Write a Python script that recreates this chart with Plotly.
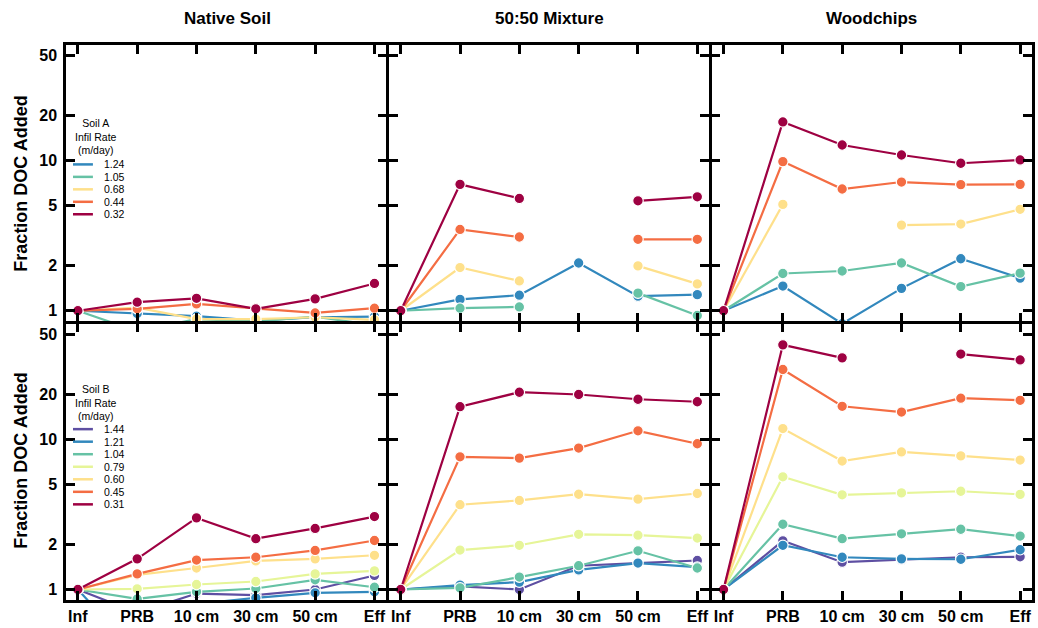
import plotly.graph_objects as go
from plotly.subplots import make_subplots

# Sampling positions along the flow path
positions = ["Inf", "PRB", "10 cm", "30 cm", "50 cm", "Eff"]
column_titles = ["Native Soil", "50:50 Mixture", "Woodchips"]

# Soil A infiltration rates (m/day) and their colours
soil_a_rates = ["1.24", "1.05", "0.68", "0.44", "0.32"]
soil_a_colors = ["#3288bd", "#66c2a5", "#fee08b", "#f46d43", "#9e0142"]

# Soil B infiltration rates (m/day) and their colours
soil_b_rates = ["1.44", "1.21", "1.04", "0.79", "0.60", "0.45", "0.31"]
soil_b_colors = ["#5e4fa2", "#3288bd", "#66c2a5", "#e6f598", "#fee08b", "#f46d43", "#9e0142"]

# Fraction DOC added, Soil A (one row per infiltration rate, same order as soil_a_rates)
native_a = [
    [1, 0.96, 0.92, 0.86, 0.905, 0.915],
    [1, 0.73, 0.88, 0.85, 0.915, 0.80],
    [1, 1.05, 0.88, 0.88, 0.905, 0.87],
    [1, 1.03, 1.11, 1.04, 0.967, 1.04],
    [1, 1.14, 1.21, 1.03, 1.20, 1.52],
]
mixture_a = [
    [1, 1.19, 1.27, 2.08, 1.25, 1.28],
    [1, 1.04, 1.06, None, 1.31, 0.93],
    [1, 1.94, 1.58, None, 1.99, 1.51],
    [1, 3.48, 3.10, None, 2.99, 2.99],
    [1, 6.95, 5.60, None, 5.40, 5.74],
]
woodchips_a = [
    [1, 1.46, 0.82, 1.41, 2.22, 1.65],
    [1, 1.77, 1.84, 2.08, 1.45, 1.78],
    [1, 5.11, None, 3.72, 3.78, 4.74],
    [1, 9.85, 6.47, 7.20, 6.92, 6.95],
    [1, 18.1, 12.7, 10.9, 9.60, 10.1],
]

# Fraction DOC added, Soil B (same order as soil_b_rates)
native_b = [
    [1, 0.70, 0.94, 0.918, 1.00, 1.24],
    [1, 0.37, 0.80, 0.88, 0.95, 0.965],
    [1, 0.865, 0.965, 1.015, 1.16, 1.035],
    [1, 1.01, 1.08, 1.13, 1.27, 1.33],
    [1, 1.25, 1.39, 1.55, 1.60, 1.69],
    [1, 1.27, 1.57, 1.64, 1.82, 2.12],
    [1, 1.60, 3.00, 2.18, 2.55, 3.06],
]
mixture_b = [
    [1, 1.05, 1.00, 1.44, 1.50, 1.56],
    [1, 1.07, 1.12, 1.35, 1.50, 1.41],
    [1, 1.025, 1.21, 1.44, 1.81, 1.39],
    [1, 1.83, 1.97, 2.33, 2.30, 2.20],
    [1, 3.67, 3.92, 4.31, 4.00, 4.36],
    [1, 7.65, 7.50, 8.75, 11.4, 9.35],
    [1, 16.5, 20.6, 19.9, 18.5, 17.8],
]
woodchips_b = [
    [1, 2.11, 1.52, 1.58, 1.64, 1.65],
    [1, 1.97, 1.64, 1.60, 1.59, 1.84],
    [1, 2.72, 2.18, 2.35, 2.52, 2.27],
    [1, 5.63, 4.27, 4.40, 4.51, 4.30],
    [1, 11.8, 7.17, 8.24, 7.76, 7.28],
    [1, 29.2, 16.6, 15.2, 18.8, 18.2],
    [1, 42.6, 34.9, None, 37.0, 33.8],
]

y_ticks = [1, 2, 5, 10, 20, 50]

W, H = 1038, 628
M_L, M_R, M_T, M_B = 66, 3, 45, 22
PW = W - M_L - M_R
PH = H - M_T - M_B
LINE_W = 2.5
FONT = "Liberation Sans, Arial, Helvetica, sans-serif"


def px_x(x):
    return (x - M_L) / PW


def px_y(y):
    return (H - M_B - y) / PH


# Gaps equal to the frame width so neighbouring frame lines land on top of each other
fig = make_subplots(
    rows=2, cols=3,
    horizontal_spacing=LINE_W / PW, vertical_spacing=LINE_W / PH,
)

panels_a = [(1, native_a), (2, mixture_a), (3, woodchips_a)]
panels_b = [(1, native_b), (2, mixture_b), (3, woodchips_b)]

for row, group, colors in ((1, panels_a, soil_a_colors), (2, panels_b, soil_b_colors)):
    for col, series in group:
        for vals, color in zip(series, colors):
            fig.add_trace(
                go.Scatter(
                    x=positions, y=vals, mode="lines+markers",
                    line=dict(color=color, width=2.2),
                    marker=dict(size=10.5, color=color, line=dict(color="white", width=1.2)),
                    connectgaps=False, showlegend=False, hoverinfo="skip",
                ),
                row=row, col=col,
            )

axis_common = dict(
    showline=True, linecolor="black", linewidth=LINE_W, mirror="ticks",
    ticks="inside", ticklen=9, tickwidth=2.5, tickcolor="black",
    showgrid=False, zeroline=False,
    tickfont=dict(family=FONT, size=16, color="black", weight="bold"),
)

for row in (1, 2):
    for col in (1, 2, 3):
        fig.update_xaxes(
            type="category", categoryorder="array", categoryarray=positions,
            range=[-0.2, 5.2], showticklabels=(row == 2),
            row=row, col=col, **axis_common,
        )
        fig.update_yaxes(
            type="log", range=[-0.07, 1.77], tickvals=y_ticks,
            ticktext=[str(v) for v in y_ticks], showticklabels=(col == 1),
            ticklabelstandoff=3,
            row=row, col=col, **axis_common,
        )

annotations = []
col_centers = [1 / 6, 1 / 2, 5 / 6]
for title, cx in zip(column_titles, col_centers):
    annotations.append(dict(
        text=title, xref="paper", yref="paper", x=cx, y=px_y(18),
        showarrow=False, xanchor="center", yanchor="middle",
        font=dict(family=FONT, size=17, color="black", weight="bold"),
    ))

for cy in (185, 465):
    annotations.append(dict(
        text="Fraction DOC Added", xref="paper", yref="paper",
        x=px_x(20), y=px_y(cy), textangle=-90,
        showarrow=False, xanchor="center", yanchor="middle",
        font=dict(family=FONT, size=18, color="black", weight="bold"),
    ))

shapes = []


def add_key(title, rates, colors, title_y, first_y, step):
    annotations.append(dict(
        text=title, xref="paper", yref="paper", x=px_x(96), y=px_y(title_y),
        showarrow=False, xanchor="center", yanchor="middle", align="center",
        font=dict(family=FONT, size=10.5, color="black"),
    ))
    for i, (rate, color) in enumerate(zip(rates, colors)):
        y = first_y + i * step
        shapes.append(dict(
            type="line", xref="paper", yref="paper",
            x0=px_x(73), x1=px_x(93), y0=px_y(y), y1=px_y(y),
            line=dict(color=color, width=2.5),
        ))
        annotations.append(dict(
            text=rate, xref="paper", yref="paper", x=px_x(102), y=px_y(y),
            showarrow=False, xanchor="left", yanchor="middle",
            font=dict(family=FONT, size=10.5, color="black"),
        ))


add_key("Soil A<br>Infil Rate<br>(m/day)", soil_a_rates, soil_a_colors, 137, 165.7, 12.6)
add_key("Soil B<br>Infil Rate<br>(m/day)", soil_b_rates, soil_b_colors, 406, 433.3, 12.67)

fig.update_layout(
    width=W, height=H,
    margin=dict(l=M_L, r=M_R, t=M_T, b=M_B, pad=0),
    paper_bgcolor="white", plot_bgcolor="white",
    annotations=annotations, shapes=shapes,
    font=dict(family=FONT, color="black"),
    showlegend=False,
)

fig.write_html("out.html")
